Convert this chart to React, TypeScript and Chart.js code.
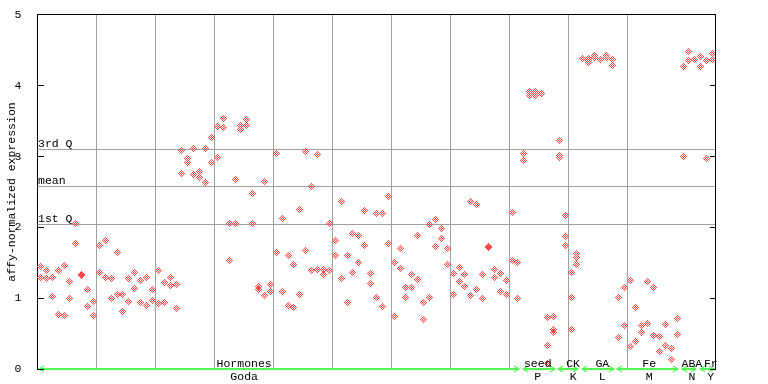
import React, { useEffect, useRef } from "react";
import { Chart, registerables } from "chart.js";

Chart.register(...registerables);

const FONT = "11.5px 'Liberation Mono', 'DejaVu Sans Mono', monospace";

const yTickLabels = ["0", "1", "2", "3", "4", "5"];
const yTitle = "affy-normalized expression";

const quartileNames = ["3rd Q", "mean", "1st Q"];
const quartileValues = [3.104, 2.584, 2.037];

const groupNames = ["Hormones", "seed", "CK", "GA", "Fe", "ABA", "Fr"];
const groupCodes = ["Goda", "P", "K", "L", "M", "N", "Y"];
const groupStart = [0, 82, 88, 92, 98, 109, 112];
const groupEnd = [82, 88, 92, 98, 109, 112, 115];
const groupLabelAt = [35.05, 84.85, 90.85, 95.8, 103.75, 111.0, 114.2];

const sampleCount = 115;

// replicate values per sample column (null = no replicate)
const rep1 = [
  1.444, 1.39, 1.3, 1.39, 1.46, 1.23, 2.06, 1.325, 1.12, 0.95,
  1.75, 1.82, 1.275, 1.64, 1.06, 1.275, 1.36, 1.25, 1.29, 1.12,
  1.39, 1.22, 1.3, 1.19, 3.09, 2.975, 3.115, 2.79, 3.115, 3.27,
  3.43, 3.54, 2.05, 2.67, 3.44, 3.525, 2.48, 1.16, 2.65, 1.19,
  3.05, 2.12, 1.6, 1.47, 2.26, 3.075, 2.58, 3.03, 1.4, 2.06,
  1.81, 2.37, 1.61, 1.91, 1.88, 2.245, 1.345, 2.2, 2.2, 2.44,
  1.5, 1.7, 1.15, 1.33, 1.88, 0.94, 2.035, 2.105, 1.99, 1.7,
  1.345, 1.43, 1.33, 2.36, 2.33, 1.33, 1.715, 1.4, 1.345, 1.25,
  2.215, 1.5, 3.05, 3.92, 3.92, 3.89, 0.73, 0.74, 3.23, 2.175,
  1.36, 1.63, 4.38, 4.38, 4.42, 4.37, 4.42, 4.37, 1.01, 1.15,
  1.25, 0.87, 0.615, 1.23, 1.15, 0.46, 0.63, 0.29, 0.71, 4.27,
  4.48, 4.37, 4.41, 4.35, 4.45,
];

const rep2 = [
  1.3, 1.275, 1.02, 0.77, 0.755, 0.99, 1.77, 1.34, 0.88, 0.755,
  1.37, 1.29, 0.99, 1.06, 0.81, 0.95, 1.135, 0.94, 0.895, 0.965,
  0.92, 0.94, 1.18, 0.855, 2.765, 2.92, 2.75, 2.71, 2.64, 2.92,
  2.99, 3.41, 1.53, 2.06, 3.38, 3.44, 2.05, 1.12, 1.035, 1.09,
  1.64, 1.09, 0.895, 0.87, 1.06, 1.68, 1.39, 1.4, 1.33, 1.39,
  1.61, 1.275, 0.94, 1.36, 1.5, 1.74, 1.205, 1.01, 0.88, 1.78,
  0.74, 1.415, 1.01, 1.15, 1.26, 0.7, 1.01, 1.725, 1.85, 1.47,
  1.06, 1.23, 1.16, 1.035, 1.12, 0.99, 1.73, 1.3, 1.09, 1.06,
  1.53, 0.99, 2.95, 3.86, 3.895, null, 0.33, 0.555, 3.02, 1.865,
  1.01, 1.57, null, 4.355, 4.4, null, 4.4, 4.28, 0.445, 0.615,
  0.32, 0.39, 0.515, 0.64, 0.47, 0.25, 0.33, 0.135, 0.49, 3.0,
  4.35, null, 4.27, 2.975, 4.37,
];

const rep3: (number | null)[] = new Array(sampleCount).fill(null);
const rep3Index = [84, 86, 87, 88, 89, 90, 91, 93];
const rep3Values = [3.865, 0.08, 0.52, 2.99, 1.75, 0.56, 1.47, 4.33];
rep3Index.forEach((idx, k) => {
  rep3[idx] = rep3Values[k];
});

function makeDiamond(color: string): HTMLCanvasElement {
  const c = document.createElement("canvas");
  c.width = 7;
  c.height = 7;
  const g = c.getContext("2d")!;
  g.fillStyle = color;
  for (let yy = 0; yy < 7; yy++) {
    for (let xx = 0; xx < 7; xx++) {
      const d = Math.abs(xx - 3) + Math.abs(yy - 3);
      if (d === 1 || d === 3) g.fillRect(xx, yy, 1, 1);
    }
  }
  return c;
}

const decorPlugin = {
  id: "decor",
  beforeDatasetsDraw(chart: any) {
    const { ctx, chartArea: a, scales } = chart;
    const y = scales.y;
    ctx.save();
    ctx.strokeStyle = "#a0a0a0";
    ctx.lineWidth = 1;
    ctx.font = FONT;
    ctx.fillStyle = "#000";
    ctx.textAlign = "left";
    ctx.textBaseline = "alphabetic";
    quartileValues.forEach((q, i) => {
      const py = Math.floor(y.getPixelForValue(q)) + 0.5;
      ctx.beginPath();
      ctx.moveTo(a.left, py);
      ctx.lineTo(a.right, py);
      ctx.stroke();
      ctx.fillText(quartileNames[i], a.left + 0.5, py - 3);
    });
    ctx.restore();
    ctx.imageSmoothingEnabled = false;
  },
  afterDatasetsDraw(chart: any) {
    const { ctx, scales } = chart;
    const x = scales.x;
    const y = scales.y;
    const py = Math.floor(y.getPixelForValue(0));
    ctx.save();
    ctx.fillStyle = "rgb(80,250,80)";
    ctx.strokeStyle = "rgb(80,250,80)";
    ctx.lineWidth = 1.2;
    groupStart.forEach((s, i) => {
      const x0 = Math.round(x.getPixelForValue(s + 0.3));
      const x1 = Math.round(x.getPixelForValue(groupEnd[i] - 0.3));
      ctx.fillRect(x0, py - 1, x1 - x0, 2);
      ctx.beginPath();
      ctx.moveTo(x0 + 5, py - 3);
      ctx.lineTo(x0, py);
      ctx.lineTo(x0 + 5, py + 3);
      ctx.moveTo(x1 - 5, py - 3);
      ctx.lineTo(x1, py);
      ctx.lineTo(x1 - 5, py + 3);
      ctx.stroke();
    });
    ctx.restore();
  },
  afterDraw(chart: any) {
    const { ctx, chartArea: a, scales } = chart;
    const x = scales.x;
    const y = scales.y;
    ctx.save();
    ctx.fillStyle = "#000";
    const l = Math.floor(a.left);
    const r = Math.floor(a.right);
    const t = Math.floor(a.top);
    const b = Math.floor(a.bottom);
    ctx.fillRect(l, t, r - l + 1, 1);
    ctx.fillRect(r, t, 1, b - t + 1);
    yTickLabels.forEach((lab) => {
      const py = Math.floor(y.getPixelForValue(Number(lab)));
      ctx.fillRect(l, py, 7, 1);
      ctx.fillRect(r - 5, py, 5, 1);
    });
    ctx.font = FONT;
    ctx.textAlign = "center";
    ctx.textBaseline = "alphabetic";
    groupNames.forEach((n, i) => {
      const px = x.getPixelForValue(groupLabelAt[i]);
      ctx.fillText(n, px, 367);
      ctx.fillText(groupCodes[i], px, 380);
    });
    ctx.translate(15, (a.top + a.bottom) / 2);
    ctx.rotate(-Math.PI / 2);
    ctx.fillText(yTitle, 0, 0);
    ctx.restore();
  },
};

export default function App() {
  const ref = useRef<HTMLCanvasElement>(null);
  useEffect(() => {
    const canvas = ref.current!;
    const diamond = makeDiamond("rgb(255,72,72)");
    const pts: { x: number; y: number }[] = [];
    [rep1, rep2, rep3].forEach((arr) =>
      arr.forEach((v, i) => {
        if (v != null) pts.push({ x: i + 0.5, y: v as number });
      })
    );
    const chart = new Chart(canvas, {
      type: "scatter",
      data: {
        datasets: [
          {
            data: pts,
            pointStyle: diamond as any,
            pointRadius: 3.5,
            showLine: false,
            clip: false as any,
          },
        ],
      },
      options: {
        responsive: false,
        devicePixelRatio: 1,
        animation: false,
        events: [],
        layout: { padding: { left: 0, top: 13.5, right: 52.5, bottom: 14.5 } },
        plugins: { legend: { display: false }, tooltip: { enabled: false } },
        scales: {
          x: {
            type: "linear",
            min: 0,
            max: sampleCount,
            ticks: { display: false, stepSize: 10 },
            grid: {
              drawTicks: false,
              lineWidth: 1,
              color: (c: any) =>
                c.tick && c.tick.value > 0 && c.tick.value < sampleCount
                  ? "#a0a0a0"
                  : "rgba(0,0,0,0)",
            },
            border: { display: false },
            afterFit: (s: any) => {
              s.height = 0;
            },
          },
          y: {
            min: 0,
            max: 5,
            ticks: {
              stepSize: 1,
              color: "#000",
              padding: 8,
              font: { family: "'Liberation Mono', 'DejaVu Sans Mono', monospace", size: 11.5 },
              callback: (v: any) => yTickLabels[Number(v)] ?? "",
            },
            grid: { display: false },
            border: { display: true, color: "#000", width: 1 },
            afterFit: (s: any) => {
              s.width = 37.5;
            },
          },
        },
      },
      plugins: [decorPlugin],
    });
    return () => chart.destroy();
  }, []);
  return (
    <canvas
      ref={ref}
      width={768}
      height={384}
      style={{ position: "absolute", left: 0, top: 0, width: 768, height: 384 }}
    />
  );
}
